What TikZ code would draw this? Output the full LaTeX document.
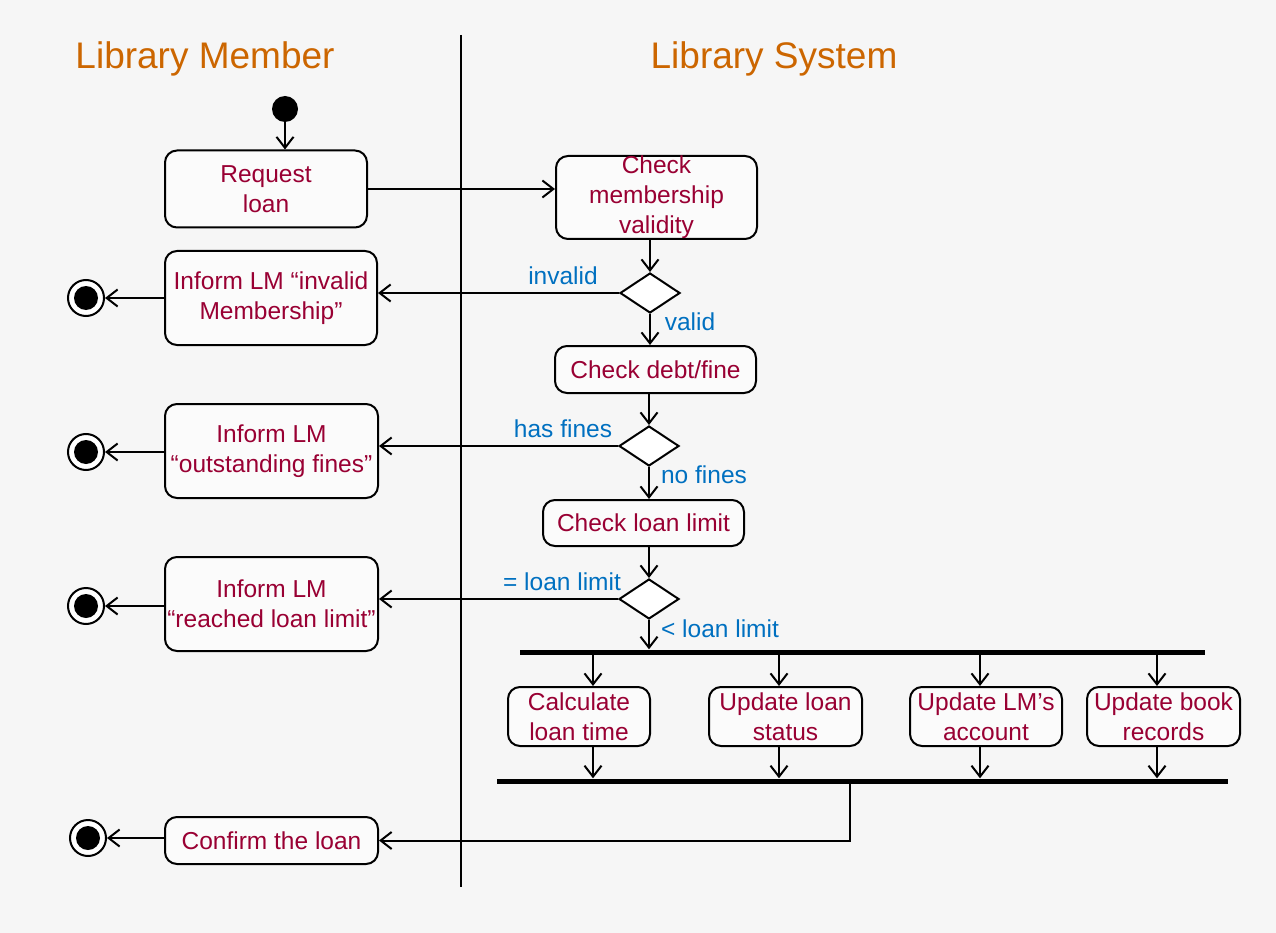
\documentclass[tikz,border=0pt]{standalone}
\usepackage{fontspec}
\setmainfont{Liberation Sans}
\usetikzlibrary{arrows.meta,shapes.geometric}
\definecolor{bg}{RGB}{246,246,246}
\definecolor{txt}{RGB}{153,0,51}
\definecolor{lbl}{RGB}{0,112,192}
\definecolor{ttl}{RGB}{204,102,0}
\tikzset{
  act/.style={draw=black,line width=2pt,rounded corners=12pt,fill=white!60!bg,text=txt,
    font=\fontsize{24.5}{30}\selectfont,align=center,inner sep=0pt},
  dec/.style={draw=black,line width=2pt,diamond,aspect=1.5,fill=white,inner sep=0pt,
    minimum width=60pt,minimum height=40pt},
  bar/.style={fill=black,inner sep=0pt,minimum height=5pt},
  arr/.style={line width=2pt,-{Straight Barb[length=11pt,width=17pt,line width=2pt]}},
  guard/.style={text=lbl,font=\fontsize{24.5}{30}\selectfont,inner sep=0pt},
  title/.style={text=ttl,font=\fontsize{37}{40}\selectfont,inner sep=0pt},
  startnode/.style={circle,fill=black,minimum size=26pt,inner sep=0pt},
  endnode/.style={circle,draw=black,line width=2pt,fill=white,minimum size=36pt,inner sep=0pt,
    path picture={\fill[black] (path picture bounding box.center) circle (12pt);}},
}
\begin{document}
\begin{tikzpicture}[x=1pt,y=-1pt]
\fill[bg] (0,0) rectangle (1276,933);
\useasboundingbox (0,0) rectangle (1276,933);
% titles and swimlane
\node[title] (t1) at (205,59) {Library Member};
\node[title] (t2) at (774,59) {Library System};
\coordinate (lt) at (461,35);
\coordinate (lb) at (461,887);
\draw[line width=2pt] (lt) -- (lb);
% nodes
\node[startnode] (s) at (285,109) {};
\node[act,minimum width=202pt,minimum height=77pt] (req) at (266,189) {Request\\loan};
\node[act,minimum width=201pt,minimum height=83pt] (chk) at (656.5,197.5) {Check\\membership\\validity};
\node[dec] (d1) at (650,293) {};
\node[act,minimum width=212pt,minimum height=94pt] (inv) at (271,298) {Inform LM “invalid\\Membership”};
\node[endnode] (e1) at (86,298) {};
\node[act,minimum width=201pt,minimum height=47pt] (debt) at (655.5,369.5) {Check debt/fine};
\node[dec] (d2) at (649,446) {};
\node[act,minimum width=213pt,minimum height=94pt] (fines) at (271.5,451) {Inform LM\\“outstanding fines”};
\node[endnode] (e2) at (86,452) {};
\node[act,minimum width=201pt,minimum height=46pt] (limit) at (643.5,523) {Check loan limit};
\node[dec] (d3) at (649,599) {};
\node[act,minimum width=213pt,minimum height=94pt] (reach) at (271.5,604) {Inform LM\\“reached loan limit”};
\node[endnode] (e3) at (86,606) {};
\node[bar,minimum width=685pt] (fork) at (862.5,652) {};
\node[act,minimum width=142pt,minimum height=59pt] (calc) at (579,716.5) {Calculate\\loan time};
\node[act,minimum width=153pt,minimum height=59pt] (stat) at (785.5,716.5) {Update loan\\status};
\node[act,minimum width=152pt,minimum height=59pt] (acct) at (986,716.5) {Update LM’s\\account};
\node[act,minimum width=153pt,minimum height=59pt] (book) at (1163.5,716.5) {Update book\\records};
\node[bar,minimum width=731pt] (join) at (862.5,781) {};
\node[act,minimum width=213pt,minimum height=47pt] (conf) at (271.5,840.5) {Confirm the loan};
\node[endnode] (e4) at (88,838) {};
% column coordinates for parallel flows
\coordinate (c1) at (593,0);
\coordinate (c2) at (779,0);
\coordinate (c3) at (980,0);
\coordinate (c4) at (1157,0);
\coordinate (c5) at (850,0);
% connectors
\draw[arr] (s.south) -- (s.south |- req.north);
\draw[arr] (req.east) -- (req.east -| chk.west);
\draw[arr] (d1.north |- chk.south) -- (d1.north);
\draw[arr] (d1.west) -- (d1.west -| inv.east);
\draw[arr] (inv.west |- e1.east) -- (e1.east);
\draw[arr] (d1.south) -- (d1.south |- debt.north);
\draw[arr] (d2.north |- debt.south) -- (d2.north);
\draw[arr] (d2.west) -- (d2.west -| fines.east);
\draw[arr] (fines.west |- e2.east) -- (e2.east);
\draw[arr] (d2.south) -- (d2.south |- limit.north);
\draw[arr] (d3.north |- limit.south) -- (d3.north);
\draw[arr] (d3.west) -- (d3.west -| reach.east);
\draw[arr] (reach.west |- e3.east) -- (e3.east);
\draw[arr] (d3.south) -- (d3.south |- fork.north);
\foreach \c/\b in {c1/calc,c2/stat,c3/acct,c4/book}{
  \draw[arr] (fork.south -| \c) -- (\b.north -| \c);
  \draw[arr] (\b.south -| \c) -- (join.north -| \c);
}
\draw[arr] (join.south -| c5) |- (conf.east);
\draw[arr] (conf.west |- e4.east) -- (e4.east);
% guards
\node[guard] (g1) at (563,276) {invalid};
\node[guard] (g2) at (690,322) {valid};
\node[guard] (g3) at (563,429) {has fines};
\node[guard] (g4) at (704,475) {no fines};
\node[guard] (g5) at (562,582) {= loan limit};
\node[guard] (g6) at (720,629) {< loan limit};
\end{tikzpicture}
\end{document}
